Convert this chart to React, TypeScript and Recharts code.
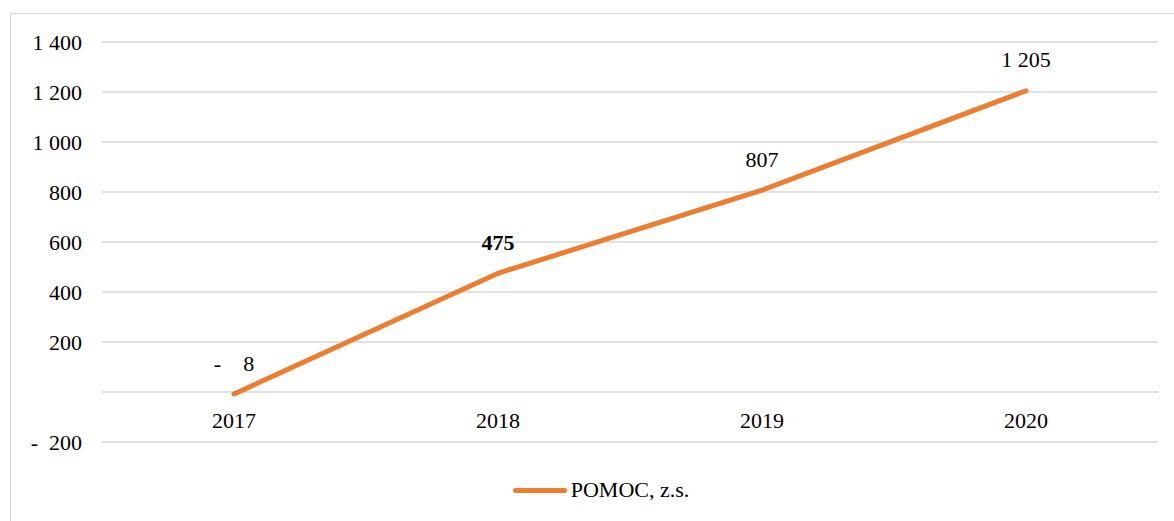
import React from 'react';
import { LineChart, Line, XAxis, YAxis, CartesianGrid, LabelList } from 'recharts';

const years = ['2017', '2018', '2019', '2020'];
const pomoc = [-8, 475, 807, 1205];
const yTicks = [-200, 0, 200, 400, 600, 800, 1000, 1200, 1400];

const data = years.map((year, i) => ({ year, pomoc: pomoc[i] }));

const FONT = 'Liberation Serif, DejaVu Serif, serif';
const ORANGE = '#ED7D31';

const fmt = (v: number) => {
  if (v === 0) return '';
  const abs = Math.abs(v).toString().replace(/\B(?=(\d{3})+(?!\d))/g, ' ');
  return v < 0 ? '-  ' + abs : abs;
};

const fmtLabel = (v: number) => {
  const abs = Math.abs(v).toString().replace(/\B(?=(\d{3})+(?!\d))/g, ' ');
  return v < 0 ? '-    ' + abs : abs;
};

const textStyle = { fontFamily: FONT, whiteSpace: 'pre' as const };

// category labels sit just under the zero line, like Excel does
const XTick = (props: any) => {
  const { x, y, payload } = props;
  return (
    <text x={x} y={y - 22} textAnchor="middle" dominantBaseline="central" fontSize={22} style={textStyle} fill="#000">
      {payload.value}
    </text>
  );
};

const YTick = (props: any) => {
  const { x, y, payload } = props;
  return (
    <text x={x} y={y} textAnchor="end" dominantBaseline="central" fontSize={22} style={textStyle} fill="#000">
      {fmt(payload.value)}
    </text>
  );
};

const PointLabel = (props: any) => {
  const { x, y, value, index } = props;
  return (
    <text
      x={x}
      y={y - 31}
      textAnchor="middle"
      dominantBaseline="central"
      fontSize={22}
      fontWeight={years[index] === '2018' ? 'bold' : 'normal'}
      fill="#000"
      style={textStyle}
    >
      {fmtLabel(value)}
    </text>
  );
};

export default function App() {
  return (
    <div style={{ position: 'absolute', left: 0, top: 0, width: 1174, height: 521, overflow: 'hidden', background: '#fff' }}>
      <div style={{ position: 'absolute', left: 10, top: 13, width: 1200, height: 560, border: '1px solid #d9d9d9' }} />
      <div style={{ position: 'absolute', left: 0, top: 0 }}>
        <LineChart width={1174} height={521} data={data} margin={{ top: 42, right: 16, bottom: 49, left: 10 }}>
          <CartesianGrid vertical={false} stroke="#d9d9d9" strokeWidth={1.5} />
          <XAxis
            dataKey="year"
            scale="band"
            height={30}
            axisLine={false}
            tickLine={false}
            tickSize={0}
            tickMargin={0}
            tick={<XTick />}
            interval={0}
          />
          <YAxis
            width={92}
            domain={[-200, 1400]}
            ticks={yTicks}
            interval={0}
            axisLine={false}
            tickLine={false}
            tickSize={0}
            tickMargin={20}
            tick={<YTick />}
          />
          <Line
            type="linear"
            dataKey="pomoc"
            stroke={ORANGE}
            strokeWidth={5}
            strokeLinecap="round"
            dot={false}
            activeDot={false}
            isAnimationActive={false}
          >
            <LabelList dataKey="pomoc" content={<PointLabel />} />
          </Line>
        </LineChart>
      </div>
      <div
        style={{
          position: 'absolute',
          top: 477,
          left: 14,
          width: 1174,
          height: 26,
          display: 'flex',
          justifyContent: 'center',
          alignItems: 'center',
          fontFamily: FONT,
          fontSize: 22,
          color: '#000',
        }}
      >
        <div style={{ width: 54, height: 5, borderRadius: 3, background: ORANGE, marginRight: 4 }} />
        <span>POMOC, z.s.</span>
      </div>
    </div>
  );
}
